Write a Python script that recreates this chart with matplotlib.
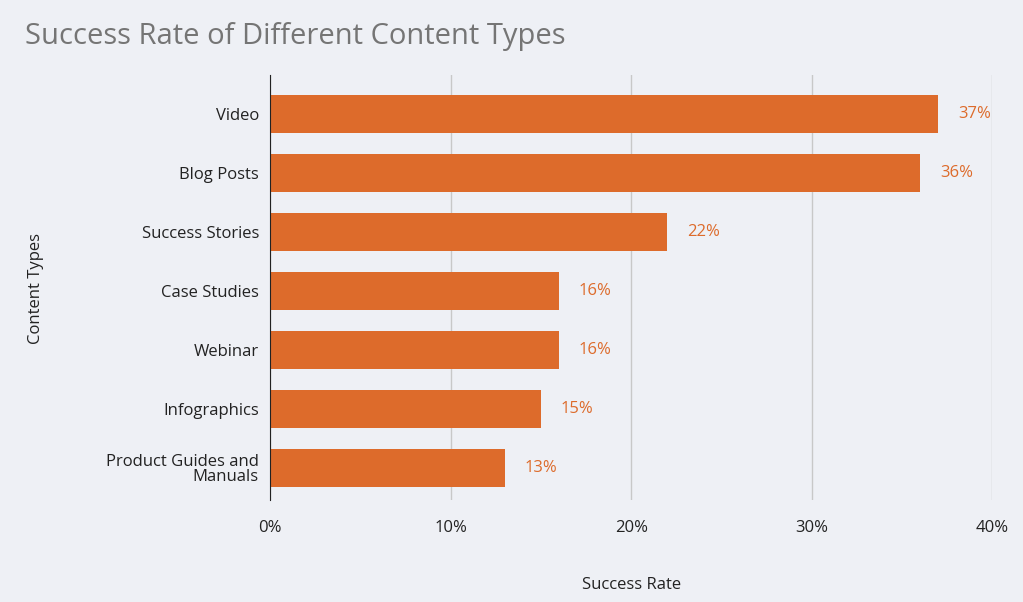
import matplotlib.pyplot as plt
import numpy as np

categories = ["Video", "Blog Posts", "Success Stories", "Case Studies",
              "Webinar", "Infographics", "Product Guides and\nManuals"]
values = [37, 36, 22, 16, 16, 15, 13]
ticks = [0, 10, 20, 30, 40]

BG = "#eef0f5"
BAR = "#dd6b2b"

plt.rcParams["font.family"] = ["Open Sans", "DejaVu Sans"]

fig = plt.figure(figsize=(10.23, 6.02), dpi=100, facecolor=BG)
ax = fig.add_axes([0.264, 0.169, 0.706, 0.706], facecolor=BG)

y = np.arange(len(categories))
ax.barh(y, values, height=0.64, color=BAR, zorder=3)
for yi, v in zip(y, values):
    ax.text(v + 1.1, yi, f"{v}%", va="center", ha="left",
            color=BAR, fontsize=12)

ax.set_xlim(0, 40)
ax.set_ylim(6.55, -0.65)
ax.set_yticks(y)
ax.set_yticklabels(categories, fontsize=12, color="#222222", linespacing=0.95)
ax.set_xticks(ticks)
ax.set_xticklabels([f"{t}%" for t in ticks], fontsize=12, color="#222222")
ax.tick_params(length=0, pad=8)
ax.tick_params(axis="x", pad=14)
ax.grid(axis="x", color="#c8c8c8", linewidth=1, zorder=0)
for s in ["top", "right", "bottom"]:
    ax.spines[s].set_visible(False)
ax.spines["left"].set_color("#222222")
ax.spines["left"].set_zorder(4)

ax.set_xlabel("Success Rate", fontsize=12, color="#222222", labelpad=30)
fig.text(0.035, 0.52, "Content Types", fontsize=12, color="#222222",
         rotation=90, ha="center", va="center")
fig.text(0.024, 0.94, "Success Rate of Different Content Types",
         fontsize=21, color="#757575", ha="left", va="center")

fig.savefig("out.png", dpi=100, facecolor=BG)
